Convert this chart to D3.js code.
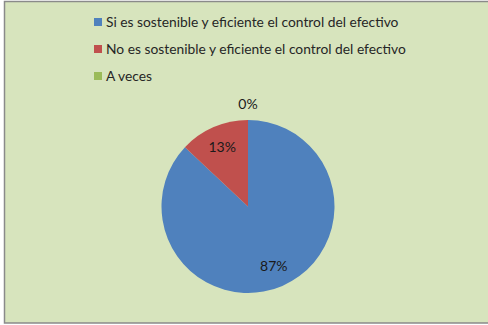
<!DOCTYPE html>
<meta charset="utf-8">
<html>
<head>
<script src="https://d3js.org/d3.v7.min.js"></script>
<style>
  body { margin: 0; }
  text { font-family: Lato, "Open Sans", sans-serif; }
</style>
</head>
<body>
<svg id="my_dataviz" width="488" height="325"></svg>
</body>
</html>
<script>

// Data
var categories = [
  "Si es sostenible y eficiente el control del efectivo",
  "No es sostenible y eficiente el control del efectivo",
  "A veces"
];
var values = [87, 13, 0];
var colors = ["#4F81BD", "#C0504D", "#9BBB59"];

var svg = d3.select("svg"),
  width = +svg.attr("width"),
  height = +svg.attr("height");

// background + frame
svg.append("rect")
  .attr("x", 4.5).attr("y", 1.5)
  .attr("width", width + 10).attr("height", 321.5)
  .attr("fill", "#D7E4BD")
  .attr("stroke", "#8A8A8A")
  .attr("stroke-width", 1.5);

// legend
var legend = svg.append("g")
  .selectAll("g")
  .data(categories)
  .enter()
  .append("g")
    .attr("transform", function (d, i) { return "translate(94," + (18 + i * 27) + ")"; });

legend.append("rect")
  .attr("width", 8).attr("height", 8)
  .attr("fill", function (d, i) { return colors[i]; });

legend.append("text")
  .attr("x", 12).attr("y", 4)
  .attr("dy", "0.35em")
  .attr("font-size", 13.8)
  .attr("fill", "#262626")
  .text(function (d) { return d; });

// pie
var cx = 248, cy = 206.5, r = 86.5;
var pie = d3.pie().sort(null).value(function (d) { return d; });
var arcs = pie(values);
var arc = d3.arc().innerRadius(0).outerRadius(r);
var labelArc = d3.arc().innerRadius(r * 0.75).outerRadius(r * 0.75);
var outerArc = d3.arc().innerRadius(r + 16).outerRadius(r + 16);

var g = svg.append("g").attr("transform", "translate(" + cx + "," + cy + ")");

g.selectAll("path")
  .data(arcs)
  .enter()
  .append("path")
    .attr("d", arc)
    .attr("fill", function (d, i) { return colors[i]; });

g.selectAll("text.lbl")
  .data(arcs)
  .enter()
  .append("text")
    .attr("class", "lbl")
    .attr("transform", function (d) {
      var c = d.value === 0 ? outerArc.centroid(d) : labelArc.centroid(d);
      return "translate(" + c + ")";
    })
    .attr("text-anchor", "middle")
    .attr("dy", "0.35em")
    .attr("font-size", 14)
    .attr("fill", "#1a1a1a")
    .text(function (d) { return d.value + "%"; });

</script>
